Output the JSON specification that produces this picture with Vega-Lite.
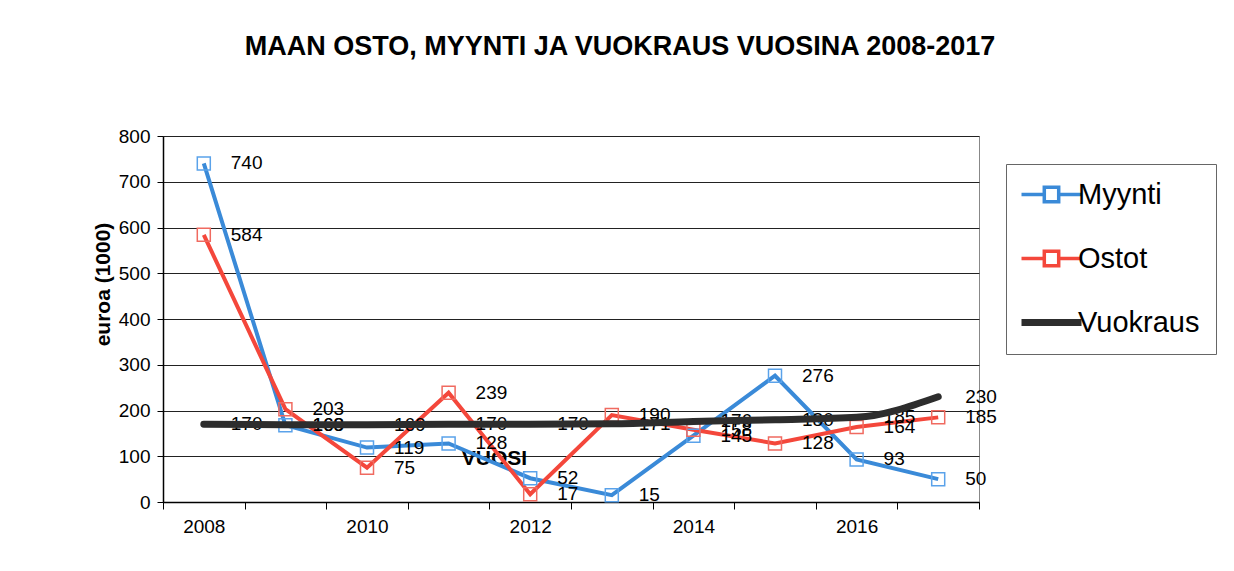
{
  "$schema": "https://vega.github.io/schema/vega-lite/v6.json",
  "width": 816,
  "height": 366,
  "autosize": {"type": "none"},
  "padding": {"left": 163, "top": 136, "right": 255, "bottom": 69},
  "background": "white",
  "config": {
    "font": "Liberation Sans",
    "view": {"stroke": "#888", "strokeWidth": 1},
    "axis": {"labelColor": "black", "labelFontWeight": "normal", "domainColor": "black", "tickColor": "black", "titleColor": "black"}
  },
  "title": {
    "text": "MAAN OSTO, MYYNTI JA VUOKRAUS VUOSINA 2008-2017",
    "font": "Liberation Sans",
    "fontSize": 27,
    "fontWeight": "bold",
    "color": "black",
    "anchor": "middle",
    "dx": 49,
    "offset": 66
  },
  "data": {
    "values": [
      {"year": 2008, "series": "Myynti", "value": 740},
      {"year": 2009, "series": "Myynti", "value": 168},
      {"year": 2010, "series": "Myynti", "value": 119},
      {"year": 2011, "series": "Myynti", "value": 128},
      {"year": 2012, "series": "Myynti", "value": 52},
      {"year": 2013, "series": "Myynti", "value": 15},
      {"year": 2014, "series": "Myynti", "value": 145},
      {"year": 2015, "series": "Myynti", "value": 276},
      {"year": 2016, "series": "Myynti", "value": 93},
      {"year": 2017, "series": "Myynti", "value": 50},
      {"year": 2008, "series": "Ostot", "value": 584},
      {"year": 2009, "series": "Ostot", "value": 203},
      {"year": 2010, "series": "Ostot", "value": 75},
      {"year": 2011, "series": "Ostot", "value": 239},
      {"year": 2012, "series": "Ostot", "value": 17},
      {"year": 2013, "series": "Ostot", "value": 190},
      {"year": 2014, "series": "Ostot", "value": 158},
      {"year": 2015, "series": "Ostot", "value": 128},
      {"year": 2016, "series": "Ostot", "value": 164},
      {"year": 2017, "series": "Ostot", "value": 185},
      {"year": 2008, "series": "Vuokraus", "value": 170},
      {"year": 2009, "series": "Vuokraus", "value": 169},
      {"year": 2010, "series": "Vuokraus", "value": 169},
      {"year": 2011, "series": "Vuokraus", "value": 170},
      {"year": 2012, "series": "Vuokraus", "value": 170},
      {"year": 2013, "series": "Vuokraus", "value": 171},
      {"year": 2014, "series": "Vuokraus", "value": 176},
      {"year": 2015, "series": "Vuokraus", "value": 180},
      {"year": 2016, "series": "Vuokraus", "value": 185},
      {"year": 2017, "series": "Vuokraus", "value": 230}
    ]
  },
  "encoding": {
    "x": {
      "field": "year",
      "type": "ordinal",
      "bandPosition": 0.5,
      "scale": {"type": "band", "paddingInner": 0, "paddingOuter": 0},
      "axis": {
        "title": "VUOSI",
        "titleFontSize": 21,
        "titleFontWeight": "bold",
        "titleX": 331,
        "titleY": -44,
        "titleBaseline": "middle",
        "titleAlign": "center",
        "labelAngle": 0,
        "labelFontSize": 19,
        "labelPadding": 8,
        "labelExpr": "datum.value % 2 == 0 ? datum.label : ''",
        "tickBand": "extent",
        "tickSize": 7,
        "grid": false,
        "domainWidth": 1.5
      }
    },
    "y": {
      "field": "value",
      "type": "quantitative",
      "scale": {"domain": [0, 800], "nice": false, "zero": true},
      "axis": {
        "title": "euroa (1000)",
        "titleFontSize": 21,
        "titleFontWeight": "bold",
        "titleX": -60,
        "titleY": 148,
        "titleAngle": -90,
        "titleAlign": "center",
        "titleBaseline": "middle",
        "values": [0, 100, 200, 300, 400, 500, 600, 700, 800],
        "labelFontSize": 19,
        "labelPadding": 7,
        "tickSize": 6,
        "grid": true,
        "gridColor": "#222",
        "gridWidth": 1,
        "domainWidth": 1.5
      }
    }
  },
  "layer": [
    {
      "transform": [{"filter": "datum.series !== 'Vuokraus'"}],
      "mark": {"type": "line", "strokeWidth": 4},
      "encoding": {
        "color": {
          "field": "series",
          "type": "nominal",
          "scale": {"domain": ["Myynti", "Ostot", "Vuokraus"], "range": ["#3a8ad8", "#f4473b", "#2d2d2d"]},
          "legend": {
            "orient": "none",
            "legendX": 843,
            "legendY": 28,
            "title": null,
            "strokeColor": "#666",
            "fillColor": "white",
            "padding": 16,
            "symbolSize": 1600,
            "symbolOffset": 15,
            "symbolType": "M-1.5,0H-0.36M0.36,0H1.5M-0.36,-0.36H0.36V0.36H-0.36Z",
            "symbolStrokeWidth": 3.5,
            "symbolFillColor": "transparent",
            "labelFontSize": 29,
            "labelColor": "black",
            "labelOffset": 12,
            "rowPadding": 34,
            "encode": {
              "symbols": {
                "update": {
                  "shape": {"signal": "datum.value === 'Vuokraus' ? 'M-1.5,0H1.5' : 'M-1.5,0H-0.36M0.36,0H1.5M-0.36,-0.36H0.36V0.36H-0.36Z'"},
                  "strokeWidth": {"signal": "datum.value === 'Vuokraus' ? 7 : 3.5"},
                  "fill": {"value": "transparent"}
                }
              }
            }
          }
        }
      }
    },
    {
      "transform": [{"filter": "datum.series !== 'Vuokraus'"}],
      "mark": {"type": "point", "shape": "square", "filled": false, "size": 169, "strokeWidth": 1.5, "opacity": 1},
      "encoding": {
        "stroke": {
          "field": "series",
          "type": "nominal",
          "scale": {"domain": ["Myynti", "Ostot"], "range": ["#5aa2ea", "#f06a60"]},
          "legend": null
        }
      }
    },
    {
      "mark": {"type": "text", "align": "left", "baseline": "middle", "dx": 27, "fontSize": 19, "color": "black"},
      "encoding": {
        "text": {"field": "value", "type": "quantitative"}
      }
    },
    {
      "transform": [{"filter": "datum.series === 'Vuokraus'"}],
      "mark": {"type": "line", "strokeWidth": 7, "interpolate": "monotone", "strokeCap": "round"},
      "encoding": {
        "color": {"field": "series", "type": "nominal"}
      }
    }
  ]
}
